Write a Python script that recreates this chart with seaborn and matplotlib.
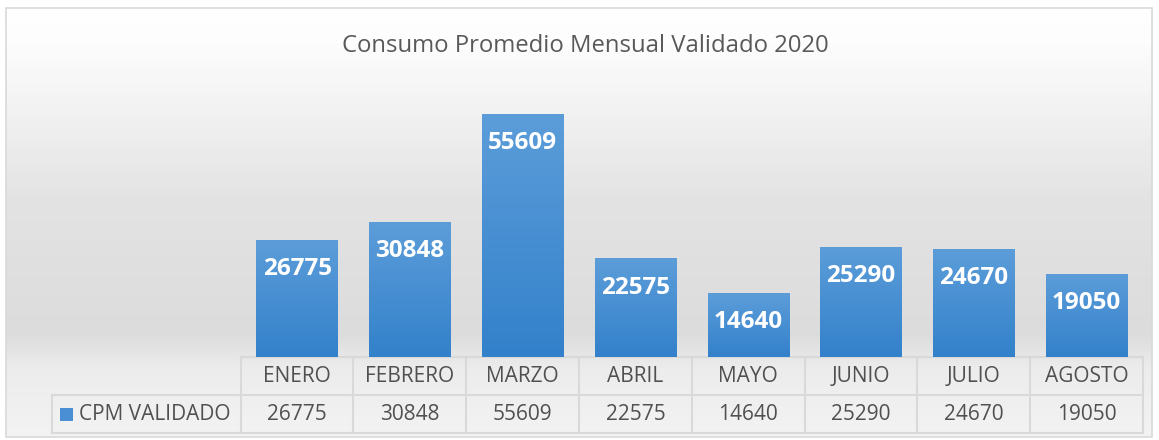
# Consumo Promedio Mensual Validado 2020 - barras con tabla de datos
import numpy as np
import pandas as pd
import matplotlib
matplotlib.use("Agg")
import matplotlib.pyplot as plt
import seaborn as sns
from matplotlib.colors import LinearSegmentedColormap
from matplotlib.patches import Rectangle

# Datos
meses = ["ENERO", "FEBRERO", "MARZO", "ABRIL", "MAYO", "JUNIO", "JULIO", "AGOSTO"]
cpm = [26775, 30848, 55609, 22575, 14640, 25290, 24670, 19050]
serie = "CPM VALIDADO"
titulo = "Consumo Promedio Mensual Validado 2020"

df = pd.DataFrame({"mes": meses, "cpm": cpm})

# Estilo
sns.set_theme(style="white")
plt.rcParams["font.family"] = ["Open Sans", "DejaVu Sans"]

W, H = 1159, 440
fig = plt.figure(figsize=(W / 100, H / 100), dpi=100)

# Fondo (coordenadas en pixeles, y hacia arriba)
bg = fig.add_axes([0, 0, 1, 1], zorder=0)
bg.set_xlim(0, W)
bg.set_ylim(0, H)
bg.axis("off")

grad = np.linspace(0, 1, 256).reshape(-1, 1)
cmap_bg = LinearSegmentedColormap.from_list(
    "bg",
    [(0, "#ffffff"), (0.08, "#fdfdfd"), (0.45, "#e3e3e3"),
     (0.76, "#dcdcdc"), (0.84, "#ececec"), (1, "#f3f3f3")],
)
bg.imshow(grad, cmap=cmap_bg, aspect="auto", extent=[6, 1152, 3, 432], zorder=0)
bg.add_patch(Rectangle((6, 3), 1146, 429, fill=False, edgecolor="#d9d9d9", lw=1.2, zorder=1))
bg.set_xlim(0, W)
bg.set_ylim(0, H)

# Titulo
fig.text(0.505, 1 - 46 / H, titulo, ha="center", va="center", fontsize=17.2, color="#595959")

# Grafico de barras
ax = fig.add_axes([240.7 / W, (H - 357) / H, (1143 - 240.7) / W, (357 - 95) / H], zorder=2)
ax.patch.set_alpha(0)
sns.barplot(data=df, x="mes", y="cpm", ax=ax, width=0.72, color="#4a90d4",
            saturation=1, edgecolor="none", linewidth=0)

cmap_bar = LinearSegmentedColormap.from_list("bar", ["#5c9dd9", "#3381cb"])
for p in ax.patches:
    x0, y0 = p.get_x(), p.get_y()
    w, h = p.get_width(), p.get_height()
    im = ax.imshow(grad, cmap=cmap_bar, aspect="auto",
                   extent=[x0, x0 + w, y0, y0 + h], zorder=p.get_zorder() + 0.1)
    im.set_clip_path(p)

ax.set_xlim(-0.5, len(meses) - 0.5)
ax.set_ylim(0, 60000)
ax.set_aspect("auto")
ax.axis("off")

# Etiquetas de valores
for i, v in enumerate(cpm):
    ax.annotate(f"{v}", xy=(i, v), xytext=(0, -21), textcoords="offset points",
                ha="center", va="center", color="white", fontsize=17.5,
                fontweight="bold", zorder=5)

# Tabla de datos
fig.canvas.draw()
bordes = [ax.transData.transform((i - 0.5, 0))[0] for i in range(len(meses) + 1)]
y_top, y_mid, y_bot = H - 357, H - 395, H - 433
x_leg = 52
col_linea = "#d9d9d9"
col_txt = "#505050"

bg.plot([bordes[0], bordes[-1]], [y_top, y_top], color=col_linea, lw=1.5, zorder=3)
bg.plot([x_leg, bordes[-1]], [y_mid, y_mid], color=col_linea, lw=1.5, zorder=3)
bg.plot([x_leg, bordes[-1]], [y_bot, y_bot], color=col_linea, lw=1.5, zorder=3)
for b in bordes:
    bg.plot([b, b], [y_top, y_bot], color=col_linea, lw=1.5, zorder=3)
bg.plot([x_leg, x_leg], [y_mid, y_bot], color=col_linea, lw=1.5, zorder=3)

for i, (m, v) in enumerate(zip(meses, cpm)):
    xc = (bordes[i] + bordes[i + 1]) / 2
    bg.text(xc, (y_top + y_mid) / 2, m, ha="center", va="center", fontsize=15, color=col_txt, zorder=4)
    bg.text(xc, (y_mid + y_bot) / 2, f"{v}", ha="center", va="center", fontsize=15, color=col_txt, zorder=4)

# Leyenda en la tabla
yc = (y_mid + y_bot) / 2
bg.add_patch(Rectangle((60, yc - 6.5), 13, 13, facecolor="#4a8fd3", edgecolor="none", zorder=4))
bg.text(79, yc, serie, ha="left", va="center", fontsize=15, color=col_txt, zorder=4)

fig.savefig("out.png", dpi=100)
